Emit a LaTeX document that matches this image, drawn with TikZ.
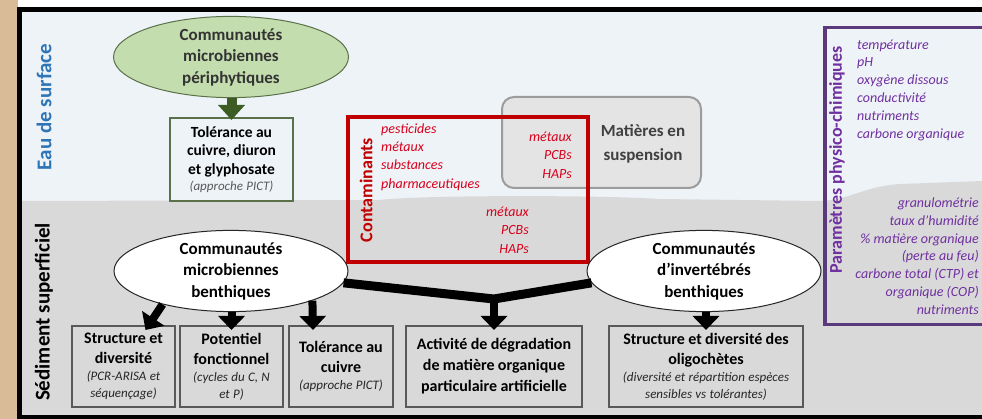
\documentclass[tikz,border=0pt]{standalone}
\usepackage{fontspec}
\setmainfont{Carlito}
\usepackage{xcolor}
\usepackage{tikz}
\usetikzlibrary{positioning,shapes.geometric,arrows.meta}

\definecolor{waterbg}{HTML}{EEF3F8}
\definecolor{sedbg}{HTML}{D9D9D9}
\definecolor{sand}{HTML}{D9BB98}
\definecolor{greenfill}{HTML}{C4DDAE}
\definecolor{greenline}{HTML}{5A7048}
\definecolor{greenarrow}{HTML}{3D5C24}
\definecolor{contred}{HTML}{C00000}
\definecolor{itemred}{HTML}{D9001B}
\definecolor{paramline}{HTML}{5B3A7C}
\definecolor{paramtxt}{HTML}{7030A0}
\definecolor{titleblue}{HTML}{2E75B6}
\definecolor{mesbg}{HTML}{E4E4E4}
\definecolor{mesline}{HTML}{9C9C9C}

\setlength{\parindent}{0pt}
\newcommand{\boxtxt}[2]{{\fontsize{16}{20}\selectfont\bfseries #1\par}{\fontsize{13}{17}\selectfont\itshape\color{black!85}#2\par}}

\begin{document}
\begin{tikzpicture}[x=1pt,y=-1pt]
    \tikzstyle{ellipsebox}=[ellipse, draw=black!85, fill=white, line width=1pt, minimum width=234pt, minimum height=75pt, inner sep=0pt, align=center, font=\fontsize{17}{21.5}\selectfont\bfseries]
    \tikzstyle{resultbox}=[rectangle, draw=black!65, fill=sedbg, line width=1.5pt, minimum height=81pt, inner sep=3pt, outer sep=0pt, align=center]
    \tikzstyle{bigarrow}=[draw=black, line width=8pt, -{Triangle[width=26pt,length=14pt]}]
    \tikzstyle{vtitle}=[rotate=90, inner sep=0pt]
    \tikzstyle{redlist}=[font=\fontsize{14}{18.4}\selectfont\itshape, text=itemred, inner sep=0pt]
    \tikzstyle{physlist}=[font=\fontsize{14}{17.8}\selectfont\itshape, text=paramtxt, inner sep=0pt]

    \clip (0,0) rectangle (982,419);

    % Background: surface water and sediment
    \fill[white] (0,0) rectangle (982,419);
    \fill[sand] (0,0) rectangle (18,419);
    \fill[waterbg] (20,9) rectangle (982,415);
    \fill[sedbg] (20,201) -- (380,200) .. controls (420,195) and (600,195) .. (660,199)
        -- (820,201) .. controls (850,200) and (865,186) .. (900,184) -- (982,181)
        -- (982,415) -- (20,415) -- cycle;
    \draw[line width=4.5pt] (19.5,419) -- (19.5,9.5) -- (982,9.5);
    \draw[line width=4pt] (19.5,417) -- (982,417);

    % Layer titles
    \node[vtitle, text=titleblue, font=\fontsize{21}{25}\selectfont\bfseries] (eau) at (44,107) {Eau de surface};
    \node[vtitle, font=\fontsize{21}{25}\selectfont\bfseries] (sed) at (44,312) {Sédiment superficiel};

    % Periphyton
    \node[ellipsebox, fill=greenfill, draw=greenline, minimum width=235pt, minimum height=78pt, text=black!80] (peri) at (231,57) {Communautés\\microbiennes\\périphytiques};
    \node[rectangle, draw=greenline, fill=waterbg, line width=1.5pt, minimum height=83pt, text width=117pt, align=center, inner sep=3pt, outer sep=0pt] (toleau) at (231.5,159.5)
        {{\fontsize{15.5}{18.5}\selectfont\bfseries Tolérance au\\cuivre, diuron\\et glyphosate\par}{\fontsize{13}{16}\selectfont\itshape\color{black!65}(approche PICT)\par}};
    \draw[draw=greenarrow, line width=10pt, -{Triangle[width=26pt,length=15pt]}] (toleau.north |- peri.south) -- ([yshift=-2pt]toleau.north);

    % Suspended matter
    \node[rectangle, rounded corners=12pt, draw=mesline, fill=mesbg, line width=2pt, minimum width=199pt, minimum height=91pt] (mes) at (601.5,142.5) {};
    \node[font=\fontsize{17}{24}\selectfont\bfseries, text=black!75, align=center] (mestxt) at (643,144) {Matières en\\suspension};

    % Contaminants
    \node[rectangle, draw=contred, line width=3.5pt, minimum width=240pt, minimum height=145pt] (contam) at (468,189.5) {};
    \node[vtitle, text=contred, font=\fontsize{18}{22}\selectfont\bfseries] (contitle) at (366,190) {Contaminants};
    \node[redlist, anchor=west, align=left] (contlist) at (381,157) {pesticides\\métaux\\substances\\pharmaceutiques};
    \node[redlist, anchor=east, align=right] (meslist) at (572,155) {métaux\\PCBs\\HAPs};
    \node[redlist, anchor=east, align=right] (sedlist) at (529,230) {métaux\\PCBs\\HAPs};

    % Physico-chemical parameters
    \node[rectangle, draw=paramline, line width=3.5pt, minimum width=180pt, minimum height=297pt, anchor=north west] (param) at (823,26) {};
    \node[vtitle, text=paramtxt, font=\fontsize{18}{22}\selectfont\bfseries] (paramtitle) at (837,160) {Paramètres physico-chimiques};
    \node[physlist, anchor=west, align=left] (eaulist) at (857,90) {température\\pH\\oxygène dissous\\conductivité\\nutriments\\carbone organique};
    \node[physlist, anchor=east, align=right] (sedparam) at (979,256) {granulométrie\\taux d’humidité\\\% matière organique\\(perte au feu)\\carbone total (CTP) et\\organique (COP)\\nutriments};

    % Benthic communities
    \node[ellipsebox] (mbenth) at (231,271) {Communautés\\microbiennes\\benthiques};
    \node[ellipsebox] (inv) at (704,271) {Communautés\\d’invertébrés\\benthiques};

    % Measured endpoints
    \node[resultbox, text width=97pt] (struct) at (123.5,366.5) {\boxtxt{Structure et\\diversité}{(PCR-ARISA et\\séquençage)}};
    \node[resultbox, text width=97pt, right=5pt of struct] (potent) {\boxtxt{Potentiel\\fonctionnel}{(cycles du C, N\\et P)}};
    \node[resultbox, text width=98pt, right=6pt of potent] (tolsed) {\boxtxt{Tolérance au\\cuivre}{(approche PICT)}};
    \node[resultbox, text width=170pt, right=13pt of tolsed] (degrad) {{\fontsize{16}{21}\selectfont\bfseries Activité de dégradation\\de matière organique\\particulaire artificielle\par}};
    \node[resultbox, text width=188pt, right=27pt of degrad] (oligo) {\boxtxt{Structure et diversité des\\oligochètes}{(diversité et répartition espèces\\sensibles vs tolérantes)}};

    % Arrows
    \draw[bigarrow] (mbenth.206) -- ([xshift=22pt,yshift=-4pt]struct.north);
    \draw[bigarrow] (potent.north |- mbenth.south) -- ([yshift=-4pt]potent.north);
    \draw[bigarrow] (mbenth.340) -- ([xshift=-28pt,yshift=-4pt]tolsed.north);
    \path (degrad.north) ++(0,-27) coordinate (vjoin);
    \draw[line width=9pt] (mbenth.-6) -- (vjoin) -- (inv.186);
    \draw[bigarrow] (vjoin) -- ([yshift=-4pt]degrad.north);
    \draw[bigarrow] (oligo.north |- inv.south) -- ([yshift=-4pt]oligo.north);
\end{tikzpicture}
\end{document}
